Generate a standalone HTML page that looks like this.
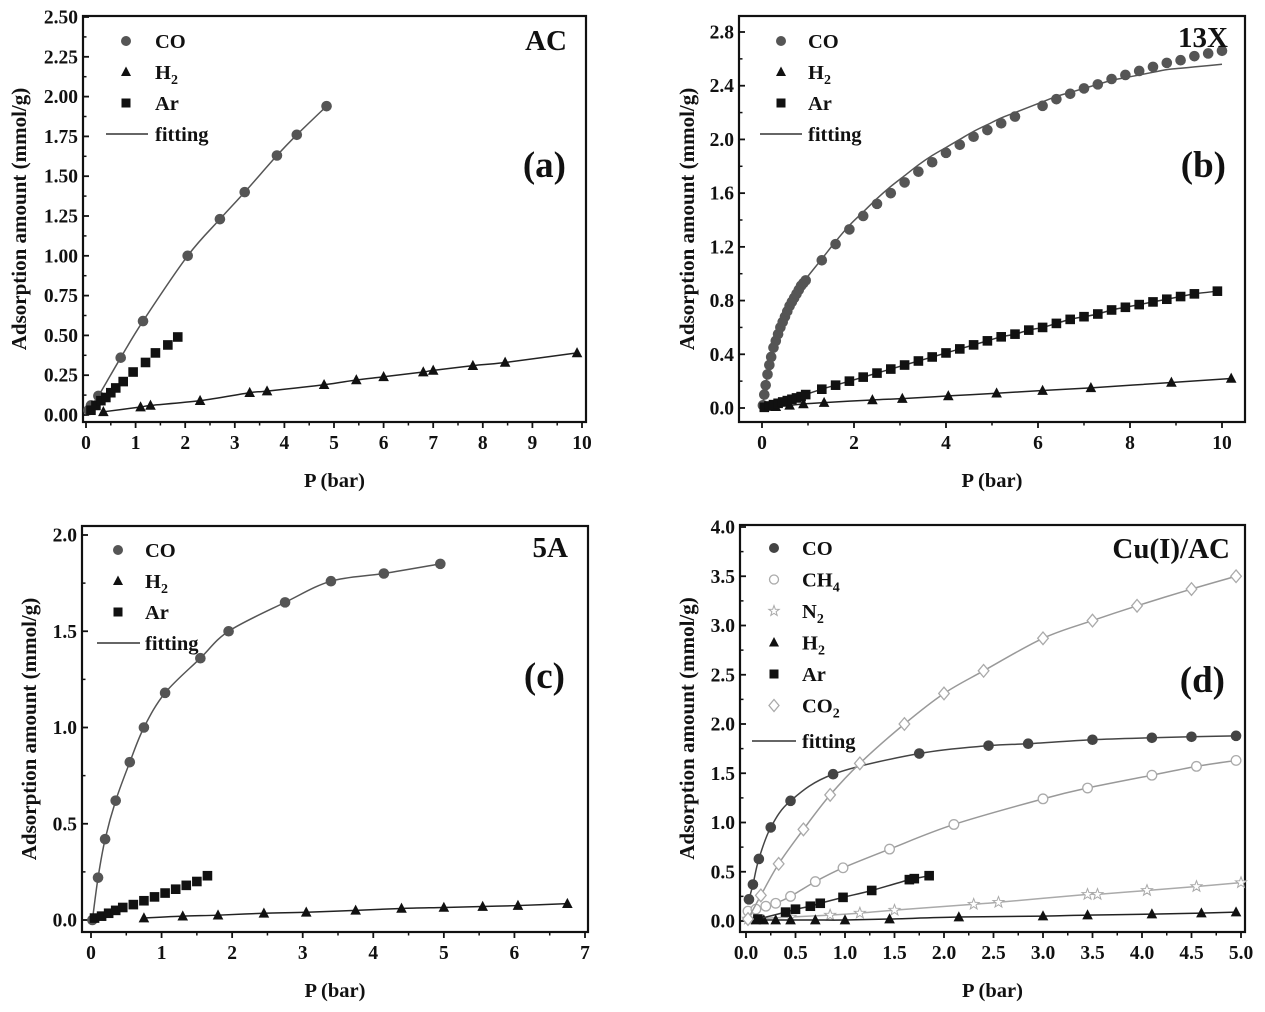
<!DOCTYPE html>
<html><head><meta charset="utf-8"><style>
body{margin:0;background:#fff;}
svg text{font-family:"Liberation Serif",serif;font-weight:bold;fill:#111;}
</style></head><body>
<svg id="chart" width="1265" height="1007" viewBox="0 0 1265 1007" xmlns="http://www.w3.org/2000/svg"></svg>
<script>
// ---- Panel (a) AC ----
const aCOx=[0.05,0.1,0.25,0.7,1.15,2.05,2.7,3.2,3.85,4.25,4.85];
const aCOy=[0.03,0.06,0.12,0.36,0.59,1.0,1.23,1.4,1.63,1.76,1.94];
const aH2x=[0.35,1.1,1.3,2.3,3.3,3.65,4.8,5.45,6.0,6.8,7.0,7.8,8.45,9.9];
const aH2y=[0.02,0.05,0.06,0.09,0.14,0.15,0.19,0.22,0.24,0.27,0.28,0.31,0.33,0.39];
const aArx=[0.1,0.2,0.3,0.4,0.5,0.6,0.75,0.95,1.2,1.4,1.65,1.85];
const aAry=[0.03,0.06,0.09,0.11,0.14,0.17,0.21,0.27,0.33,0.39,0.44,0.49];
const aXticks=[0,1,2,3,4,5,6,7,8,9,10];
const aYticks=[0,0.25,0.5,0.75,1.0,1.25,1.5,1.75,2.0,2.25,2.5];
const aYlabels=["0.00","0.25","0.50","0.75","1.00","1.25","1.50","1.75","2.00","2.25","2.50"];
// ---- Panel (b) 13X ----
const bCOx=[0.02,0.05,0.08,0.12,0.16,0.2,0.25,0.3,0.35,0.4,0.45,0.5,0.55,0.6,0.65,0.7,0.75,0.8,0.85,0.9,0.95,1.3,1.6,1.9,2.2,2.5,2.8,3.1,3.4,3.7,4.0,4.3,4.6,4.9,5.2,5.5,6.1,6.4,6.7,7.0,7.3,7.6,7.9,8.2,8.5,8.8,9.1,9.4,9.7,10.0];
const bCOy=[0.02,0.1,0.17,0.25,0.32,0.38,0.45,0.5,0.55,0.6,0.64,0.68,0.72,0.76,0.79,0.82,0.85,0.88,0.91,0.93,0.95,1.1,1.22,1.33,1.43,1.52,1.6,1.68,1.76,1.83,1.9,1.96,2.02,2.07,2.12,2.17,2.25,2.3,2.34,2.38,2.41,2.45,2.48,2.51,2.54,2.57,2.59,2.62,2.64,2.66];
const bCOfitY=[0.02,0.1,0.17,0.25,0.32,0.38,0.45,0.5,0.55,0.6,0.64,0.68,0.72,0.76,0.79,0.82,0.85,0.88,0.91,0.93,0.96,1.11,1.24,1.36,1.46,1.56,1.65,1.73,1.81,1.88,1.94,2.0,2.06,2.11,2.16,2.2,2.28,2.32,2.35,2.38,2.41,2.44,2.46,2.48,2.5,2.52,2.53,2.54,2.55,2.56];
const bH2x=[0.3,0.6,0.9,1.35,2.4,3.05,4.05,5.1,6.1,7.15,8.9,10.2];
const bH2y=[0.01,0.02,0.03,0.04,0.06,0.07,0.09,0.11,0.13,0.15,0.19,0.22];
const bArx=[0.05,0.15,0.25,0.35,0.45,0.55,0.65,0.75,0.85,0.95,1.3,1.6,1.9,2.2,2.5,2.8,3.1,3.4,3.7,4.0,4.3,4.6,4.9,5.2,5.5,5.8,6.1,6.4,6.7,7.0,7.3,7.6,7.9,8.2,8.5,8.8,9.1,9.4,9.9];
const bAry=[0.005,0.015,0.025,0.035,0.045,0.055,0.065,0.075,0.085,0.1,0.14,0.17,0.2,0.23,0.26,0.29,0.32,0.35,0.38,0.41,0.44,0.47,0.5,0.53,0.55,0.58,0.6,0.63,0.66,0.68,0.7,0.73,0.75,0.77,0.79,0.81,0.83,0.85,0.87];
const bXticks=[0,2,4,6,8,10];
const bYticks=[0,0.4,0.8,1.2,1.6,2.0,2.4,2.8];
const bYlabels=["0.0","0.4","0.8","1.2","1.6","2.0","2.4","2.8"];
// ---- Panel (c) 5A ----
const cCOx=[0.02,0.1,0.2,0.35,0.55,0.75,1.05,1.55,1.95,2.75,3.4,4.15,4.95];
const cCOy=[0.0,0.22,0.42,0.62,0.82,1.0,1.18,1.36,1.5,1.65,1.76,1.8,1.85];
const cArx=[0.05,0.15,0.25,0.35,0.45,0.6,0.75,0.9,1.05,1.2,1.35,1.5,1.65];
const cAry=[0.01,0.02,0.035,0.05,0.065,0.08,0.1,0.12,0.14,0.16,0.18,0.2,0.23];
const cH2x=[0.75,1.3,1.8,2.45,3.05,3.75,4.4,5.0,5.55,6.05,6.75];
const cH2y=[0.01,0.02,0.025,0.035,0.04,0.05,0.06,0.065,0.07,0.075,0.085];
const cXticks=[0,1,2,3,4,5,6,7];
const cYticks=[0,0.5,1.0,1.5,2.0];
const cYlabels=["0.0","0.5","1.0","1.5","2.0"];
// ---- Panel (d) Cu(I)/AC ----
const dCOx=[0.03,0.07,0.13,0.25,0.45,0.88,1.75,2.45,2.85,3.5,4.1,4.5,4.95];
const dCOy=[0.22,0.37,0.63,0.95,1.22,1.49,1.7,1.78,1.8,1.84,1.86,1.87,1.88];
const dCH4x=[0.02,0.1,0.2,0.3,0.45,0.7,0.98,1.45,2.1,3.0,3.45,4.1,4.55,4.95];
const dCH4y=[0.1,0.12,0.15,0.18,0.25,0.4,0.54,0.73,0.98,1.24,1.35,1.48,1.57,1.63];
const dN2x=[0.02,0.45,0.85,1.15,1.5,2.3,2.55,3.45,3.55,4.05,4.55,5.0];
const dN2y=[0.02,0.04,0.06,0.08,0.11,0.17,0.19,0.27,0.27,0.31,0.35,0.39];
const dH2x=[0.1,0.18,0.3,0.45,0.7,1.0,1.45,2.15,3.0,3.45,4.1,4.6,4.95];
const dH2y=[0.01,0.01,0.01,0.01,0.01,0.01,0.02,0.04,0.05,0.06,0.07,0.08,0.09];
const dArx=[0.12,0.4,0.5,0.65,0.75,0.98,1.27,1.65,1.7,1.85];
const dAry=[0.02,0.09,0.12,0.15,0.18,0.24,0.31,0.42,0.43,0.46];
const dCO2x=[0.02,0.15,0.33,0.58,0.85,1.15,1.6,2.0,2.4,3.0,3.5,3.95,4.5,4.95];
const dCO2y=[0.02,0.26,0.58,0.93,1.28,1.6,2.0,2.31,2.54,2.87,3.05,3.2,3.37,3.5];
const dXticks=[0,0.5,1,1.5,2,2.5,3,3.5,4,4.5,5];
const dXlabels=["0.0","0.5","1.0","1.5","2.0","2.5","3.0","3.5","4.0","4.5","5.0"];
const dYticks=[0,0.5,1.0,1.5,2.0,2.5,3.0,3.5,4.0];
const dYlabels=["0.0","0.5","1.0","1.5","2.0","2.5","3.0","3.5","4.0"];

const NS="http://www.w3.org/2000/svg";
const svg=document.getElementById('chart');
function mk(tag,attrs,parent){const e=document.createElementNS(NS,tag);for(const k in attrs)e.setAttribute(k,attrs[k]);(parent||svg).appendChild(e);return e;}

function smoothPath(px,py){
  let d="M"+px[0]+","+py[0];
  for(let i=0;i<px.length-1;i++){
    const x0=px[Math.max(i-1,0)],y0=py[Math.max(i-1,0)],x1=px[i],y1=py[i],x2=px[i+1],y2=py[i+1],x3=px[Math.min(i+2,px.length-1)],y3=py[Math.min(i+2,px.length-1)];
    d+=" C"+(x1+(x2-x0)/6)+","+(y1+(y2-y0)/6)+" "+(x2-(x3-x1)/6)+","+(y2-(y3-y1)/6)+" "+x2+","+y2;
  }
  return d;
}

function marker(g,type,x,y,color,s){
  let e;
  if(type==='circle'){e=mk('circle',{cx:x,cy:y,r:s,fill:color},g);}
  else if(type==='ocircle'){e=mk('circle',{cx:x,cy:y,r:s-0.5,fill:'#fff',stroke:color,'stroke-width':1.3},g);}
  else if(type==='square'){e=mk('rect',{x:x-s+0.5,y:y-s+0.5,width:2*s-1,height:2*s-1,fill:color},g);}
  else if(type==='tri'){e=mk('polygon',{points:(x)+","+(y-s-0.5)+" "+(x-s)+","+(y+s-1)+" "+(x+s)+","+(y+s-1),fill:color},g);}
  else if(type==='diamond'){e=mk('polygon',{points:x+","+(y-s-1)+" "+(x+s)+","+y+" "+x+","+(y+s+1)+" "+(x-s)+","+y,fill:'#fff',stroke:color,'stroke-width':1.3},g);}
  else if(type==='star'){let p=[];for(let k=0;k<10;k++){const r=k%2?s*0.45:s+0.5;const a=-Math.PI/2+k*Math.PI/5;p.push((x+r*Math.cos(a)).toFixed(1)+","+(y+r*Math.sin(a)).toFixed(1));}e=mk('polygon',{points:p.join(" "),fill:'#fff',stroke:color,'stroke-width':1},g);}
  return e;
}

function panel(cfg){
  const g=mk('g',{});
  
  
  const X=v=>cfg.x0+(v-cfg.xmin)/(cfg.xmax-cfg.xmin)*(cfg.x1-cfg.x0);
  const Y=v=>cfg.y0+(v-cfg.ymin)/(cfg.ymax-cfg.ymin)*(cfg.y1-cfg.y0);
  const b=cfg.box;
  const frame=mk('rect',{x:b[0],y:b[1],width:b[2]-b[0],height:b[3]-b[1],fill:'none',stroke:'#111','stroke-width':2.2},g);
  
  
  cfg.xt.forEach((v,i)=>{
    const x=X(v);
    mk('line',{x1:x,y1:b[3],x2:x,y2:b[3]+6,stroke:'#111','stroke-width':1.8},g);
    if(i<cfg.xt.length-1){const xm=X((v+cfg.xt[i+1])/2);mk('line',{x1:xm,y1:b[3],x2:xm,y2:b[3]+3.5,stroke:'#111','stroke-width':1.5},g);}
    const t=mk('text',{x:x,y:b[3]+27,'text-anchor':'middle','font-size':19.5},g);
    t.textContent=cfg.xl?cfg.xl[i]:String(v);
    
    
  });
  cfg.yt.forEach((v,i)=>{
    const y=Y(v);
    mk('line',{x1:b[0],y1:y,x2:b[0]+6,y2:y,stroke:'#111','stroke-width':1.8},g);
    if(i<cfg.yt.length-1){const ym=Y((v+cfg.yt[i+1])/2);mk('line',{x1:b[0],y1:ym,x2:b[0]+3.5,y2:ym,stroke:'#111','stroke-width':1.5},g);}
    const t=mk('text',{x:b[0]-5,y:y+6.5,'text-anchor':'end','font-size':19.5},g);
    t.textContent=cfg.yl[i];
    
    
  });
  const xt=mk('text',{x:(b[0]+b[2])/2,y:cfg.xtitleY,'text-anchor':'middle','font-size':20.5},g);
  xt.textContent='P (bar)';
  
  
  const yt=mk('text',{x:0,y:0,'text-anchor':'middle','font-size':21,transform:'translate('+cfg.ytitleX+','+((b[1]+b[3])/2)+') rotate(-90)'},g);
  yt.textContent='Adsorption amount (mmol/g)';
  
  
  cfg.series.forEach(s=>{
    const sg=mk('g',{},g);
    
    
    if(s.fit){
      const fy=s.fitY||s.y;
      const p=mk('path',{d:smoothPath(s.x.map(X),fy.map(Y)),fill:'none',stroke:s.lc||'#555','stroke-width':1.5},sg);
      
      
    }
    s.x.forEach((v,i)=>{
      const m=marker(sg,s.type,X(v),Y(s.y[i]),s.color,s.size||5.3);
      
      
    });
  });
  const lg=mk('g',{},g);
  
  
  cfg.series.forEach((s,i)=>{
    const y=cfg.leg.y+i*cfg.leg.dy;
    marker(lg,s.type,cfg.leg.mx,y,s.color,5);
    const t=mk('text',{x:cfg.leg.tx,y:y+7,'font-size':20.5},lg);
    
    
    const m=s.label.match(/^(.*?)(\d)$/);
    if(m){t.textContent=m[1];const sub=mk('tspan',{'font-size':14,dy:5},t);sub.textContent=m[2];}
    else t.textContent=s.label;
  });
  const fy=cfg.leg.y+cfg.series.length*cfg.leg.dy+(cfg.leg.fdy||0);
  mk('line',{x1:cfg.leg.lx0,y1:fy,x2:cfg.leg.lx1,y2:fy,stroke:'#333','stroke-width':1.6},lg);
  const ft=mk('text',{x:cfg.leg.tx,y:fy+7,'font-size':20.5},lg);
  ft.textContent='fitting';
  
  
  const ti=mk('text',{x:cfg.title[1],y:cfg.title[2],'text-anchor':'end','font-size':29},g);
  ti.textContent=cfg.title[0];
  
  
  const tag=mk('text',{x:cfg.tag[1],y:cfg.tag[2],'text-anchor':'end','font-size':37},g);
  tag.textContent=cfg.tag[0];
  
  
}

panel({name:'panel-a-ac',box:[83,16,586,422],x0:86,x1:582,xmin:0,xmax:10,y0:415,y1:17,ymin:0,ymax:2.5,
  xt:aXticks,yt:aYticks,yl:aYlabels,xtitleY:487,ytitleX:26,
  series:[{label:'CO',type:'circle',color:'#555',x:aCOx,y:aCOy,fit:true,lc:'#555'},
          {label:'H2',type:'tri',color:'#111',x:aH2x,y:aH2y,fit:true,lc:'#222'},
          {label:'Ar',type:'square',color:'#111',x:aArx,y:aAry,fit:false}],
  leg:{mx:126,tx:155,y:41,dy:31,lx0:106,lx1:148},title:['AC',567,50],tag:['(a)',566,177]});

panel({name:'panel-b-13x',box:[739,16,1245,422],x0:762,x1:1222,xmin:0,xmax:10,y0:408,y1:32,ymin:0,ymax:2.8,
  xt:bXticks,yt:bYticks,yl:bYlabels,xtitleY:487,ytitleX:694,
  series:[{label:'CO',type:'circle',color:'#555',x:bCOx,y:bCOy,fit:true,fitY:bCOfitY,lc:'#555'},
          {label:'H2',type:'tri',color:'#111',x:bH2x,y:bH2y,fit:true,lc:'#222'},
          {label:'Ar',type:'square',color:'#111',x:bArx,y:bAry,fit:true,lc:'#333'}],
  leg:{mx:781,tx:808,y:41,dy:31,lx0:760,lx1:802},title:['13X',1228,47],tag:['(b)',1226,177]});

panel({name:'panel-c-5a',box:[82,526,588,932],x0:91,x1:585,xmin:0,xmax:7,y0:920,y1:535,ymin:0,ymax:2.0,
  xt:cXticks,yt:cYticks,yl:cYlabels,xtitleY:997,ytitleX:36,
  series:[{label:'CO',type:'circle',color:'#555',x:cCOx,y:cCOy,fit:true,lc:'#555'},
          {label:'H2',type:'tri',color:'#111',x:cH2x,y:cH2y,fit:true,lc:'#222'},
          {label:'Ar',type:'square',color:'#111',x:cArx,y:cAry,fit:false}],
  leg:{mx:118,tx:145,y:550,dy:31,lx0:97,lx1:140},title:['5A',568,557],tag:['(c)',565,688]});

panel({name:'panel-d-cuac',box:[740,525,1245,932],x0:746,x1:1241,xmin:0,xmax:5,y0:921,y1:527,ymin:0,ymax:4.0,
  xt:dXticks,xl:dXlabels,yt:dYticks,yl:dYlabels,xtitleY:997,ytitleX:694,
  series:[{label:'CO',type:'circle',color:'#444',x:dCOx,y:dCOy,fit:true,lc:'#444'},
          {label:'CH4',type:'ocircle',color:'#aaa',x:dCH4x,y:dCH4y,fit:true,lc:'#999'},
          {label:'N2',type:'star',color:'#aaa',x:dN2x,y:dN2y,fit:true,lc:'#aaa'},
          {label:'H2',type:'tri',color:'#111',x:dH2x,y:dH2y,fit:true,lc:'#222'},
          {label:'Ar',type:'square',color:'#111',x:dArx,y:dAry,fit:true,lc:'#333'},
          {label:'CO2',type:'diamond',color:'#aaa',x:dCO2x,y:dCO2y,fit:true,lc:'#999'}],
  leg:{mx:774,tx:802,y:548,dy:31.5,lx0:752,lx1:796,fdy:4},title:['Cu(I)/AC',1230,558],tag:['(d)',1225,692]});
</script>
</body></html>
